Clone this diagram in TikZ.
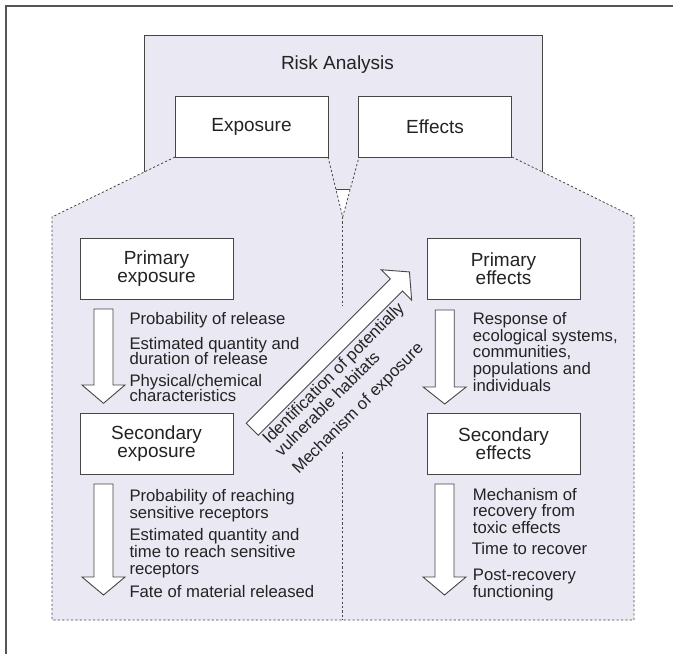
\documentclass[tikz,border=0pt]{standalone}
\usepackage{fontspec}
\setmainfont{Liberation Sans}
\definecolor{lav}{RGB}{233,232,243}
\definecolor{ink}{RGB}{35,35,35}
\definecolor{edge}{RGB}{70,70,70}
\definecolor{frame}{RGB}{85,85,85}
\newcommand\dnarrow[4]{\draw[blk] (#1-9.5,#2) -- (#1+9.5,#2) -- (#1+9.5,#3) -- (#1+21.5,#3) -- (#1,#4) -- (#1-21.5,#3) -- (#1-9.5,#3) -- cycle;}
\begin{document}
\begin{tikzpicture}[x=1pt,y=-1pt,
  box/.style={draw=edge, line width=1pt, fill=white, minimum width=153pt, minimum height=61pt, inner sep=0pt, align=center, font=\fontsize{19}{18}\selectfont, text=ink},
  lst/.style={anchor=base west, inner sep=0pt, font=\fontsize{16.7}{16.7}\selectfont, text=ink},
  dsh/.style={draw=edge, line width=0.8pt, dash pattern=on 2.2pt off 2.2pt},
  blk/.style={draw=edge, line width=0.9pt, fill=white, line join=miter}]
\useasboundingbox (0,0) rectangle (673,654);
% outer frame (only top and left visible)
\draw[frame, line width=1.7pt] (5.8,654) -- (5.8,6.3) -- (673,6.3);
% upper shaded region
\filldraw[fill=lav, draw=edge, line width=0.9pt] (144,35) rectangle (542,189);
% lower shaded region
\fill[lav] (52,217) -- (175,157) -- (328,157) -- (342.7,217) -- (359,157) -- (512,157) -- (634,217) -- (634,620) -- (52,620) -- cycle;
\draw[dsh] (175,157) -- (52,217) -- (52,620) -- (634,620) -- (634,217) -- (512,157);
\draw[dsh] (328,157) -- (342.7,217) -- (359,157);
\draw[dsh] (342.7,217) -- (342.7,306);
\draw[dsh] (342.7,452) -- (342.7,620);
% title
\node[font=\fontsize{19}{18}\selectfont, text=ink, anchor=base, inner sep=0pt] (risk) at (337.5,69) {Risk Analysis};
% boxes
\node[box] (exposure) at (251.5,126.5) {Exposure};
\node[box] (effects) at (435,126.5) {Effects};
\node[box] (pexp) at (156.5,268.5) {Primary\\exposure};
\node[box] (sexp) at (156.5,443.5) {Secondary\\exposure};
\node[box] (peff) at (503.5,268.5) {Primary\\effects};
\node[box] (seff) at (503.5,443.5) {Secondary\\effects};
% block arrows
\dnarrow{103.5}{309}{385}{403.3}
\dnarrow{103.5}{484}{577}{595}
\dnarrow{444.7}{310}{387}{404}
\dnarrow{444.5}{484}{577}{595}
\draw[blk] (246.2,423.2) -- (390.4,278.9) -- (381.25,269.75) -- (409.46,271.94) -- (411.65,300.15) -- (402.5,291) -- (258.2,435.2) -- cycle;
% diagonal labels
\node[lst, rotate=45] (d1) at (269.1,445.1) {Identification of potentially};
\node[lst, rotate=45] (d2) at (281.5,457.6) {vulnerable habitats};
\node[lst, rotate=45] (d3) at (298.7,474.8) {Mechanism of exposure};
% left list 1
\node[lst] (a1) at (129.3,324.3) {Probability of release};
\node[lst] (a2) at (129.3,349.3) {Estimated quantity and};
\node[lst] (a3) at (129.3,364) {duration of release};
\node[lst] (a4) at (129.3,386.7) {Physical/chemical};
\node[lst] (a5) at (129.3,401.7) {characteristics};
% left list 2
\node[lst] (b1) at (129.3,501.7) {Probability of reaching};
\node[lst] (b2) at (129.3,518.3) {sensitive receptors};
\node[lst] (b3) at (129.3,540.7) {Estimated quantity and};
\node[lst] (b4) at (129.3,557.7) {time to reach sensitive};
\node[lst] (b5) at (129.3,574.3) {receptors};
\node[lst] (b6) at (129.3,597.7) {Fate of material released};
% right list 1
\node[lst] (c1) at (472.7,324.3) {Response of};
\node[lst] (c2) at (472.7,341) {ecological systems,};
\node[lst] (c3) at (472.7,357.7) {communities,};
\node[lst] (c4) at (472.7,374.3) {populations and};
\node[lst] (c5) at (472.7,391) {individuals};
% right list 2
\node[lst] (e1) at (472.7,500) {Mechanism of};
\node[lst] (e2) at (472.7,516.7) {recovery from};
\node[lst] (e3) at (472.7,533.3) {toxic effects};
\node[lst] (e4) at (471.7,554) {Time to recover};
\node[lst] (e5) at (472.7,580.7) {Post-recovery};
\node[lst] (e6) at (472.7,597.3) {functioning};
\end{tikzpicture}
\end{document}
